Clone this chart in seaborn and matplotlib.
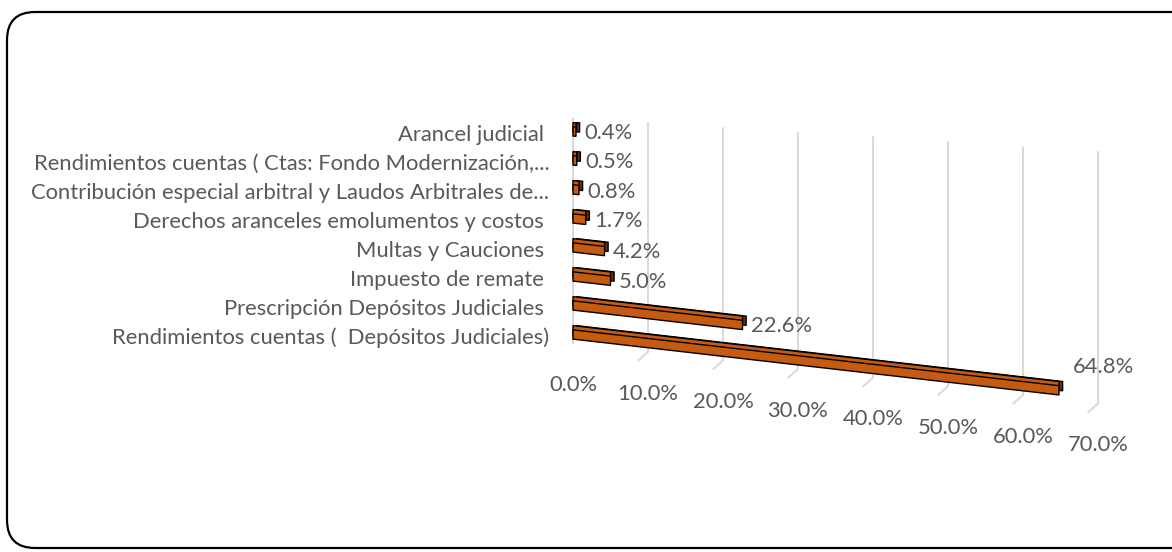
import numpy as np
import pandas as pd
import seaborn as sns
import matplotlib
matplotlib.use("Agg")
import matplotlib.pyplot as plt
import matplotlib.patheffects as pe
from matplotlib.transforms import Affine2D
from matplotlib.patches import FancyBboxPatch

# data
categories = [
    "Arancel judicial ",
    "Rendimientos cuentas ( Ctas: Fondo Modernización,...",
    "Contribución especial arbitral y Laudos Arbitrales de...",
    "Derechos aranceles emolumentos y costos ",
    "Multas y Cauciones ",
    "Impuesto de remate ",
    "Prescripción Depósitos Judiciales ",
    "Rendimientos cuentas (  Depósitos Judiciales)",
]
shares = [0.4, 0.5, 0.8, 1.7, 4.2, 5.0, 22.6, 64.8]
x_ticks = [0, 10, 20, 30, 40, 50, 60, 70]

df = pd.DataFrame({"cat": categories, "share": shares})

sns.set_theme(style="white")
plt.rcParams["font.family"] = ["Lato", "DejaVu Sans"]

orange = "#C55A11"
dark = "#6B2E05"
txt = "#595959"
fs = 15.8

fig = plt.figure(figsize=(11.72, 5.52), dpi=100)
ax = fig.add_axes([573 / 1172, 1 - 481 / 552, 525 / 1172, 383 / 552])

sns.barplot(data=df, x="share", y="cat", orient="h", color=orange,
            width=0.32, saturation=1, ax=ax, zorder=3)

ax.set_xlim(0, 70)
ax.set_ylim(12, -1.2)

# fake 3d: shear the plot so bars run down to the right
k = 0.0297
shear = Affine2D().skew(0, np.arctan(k)) + ax.transData
# bars sit a touch above their category labels
bar_tr = Affine2D().translate(0, -0.05) + shear

for p in ax.patches:
    p.set_transform(bar_tr)
    p.set_clip_on(False)
    p.set_edgecolor("black")
    p.set_linewidth(1.0)
    p.set_path_effects([
        pe.PathPatchEffect(offset=(2.6, 3), facecolor=dark, edgecolor="black", lw=1.0),
        pe.PathPatchEffect(offset=(0, 3), facecolor=orange, edgecolor="black", lw=1.0),
        pe.Normal(),
    ])

# back wall grid lines
for v in x_ticks:
    top = -0.5 + 0.0165 * v
    bot = 7.25 + k * v
    ax.plot([v, v], [top, bot], color="#d9d9d9", lw=1.4, zorder=1, clip_on=False)
    if v > 0:
        ax.plot([v, v - 1.3], [bot, bot + 0.3], color="#d9d9d9", lw=1.4, zorder=1, clip_on=False)

# value labels
for i, v in enumerate(shares):
    off = (10, 18) if v == max(shares) else (6, 0)
    ax.annotate(f"{v:.1f}%", xy=(v, i), xycoords=shear, xytext=off,
                textcoords="offset points", ha="left", va="center",
                fontsize=fs, color=txt, annotation_clip=False)

# sloped x tick labels
ax.set_xticks([])
for v in x_ticks:
    ax.text(v, 8.69, f"{v:.1f}%", transform=shear, ha="center", va="center",
            fontsize=fs, color=txt, clip_on=False)

ax.set_xlabel("")
ax.set_ylabel("")
ax.tick_params(axis="y", length=0, pad=17, labelsize=fs, labelcolor=txt)
for lab in ax.get_yticklabels():
    lab.set_va("center_baseline")
sns.despine(ax=ax, left=True, bottom=True)
ax.patch.set_alpha(0)

# rounded chart border, running off the right edge
border = FancyBboxPatch((7 / 1172, 4 / 552), 3.0, 536 / 552,
                        boxstyle="round,pad=0,rounding_size=0.024",
                        mutation_aspect=1172 / 552,
                        transform=fig.transFigure, fill=False,
                        edgecolor="black", lw=1.6)
fig.patches.append(border)

fig.savefig("out.png", dpi=100)
